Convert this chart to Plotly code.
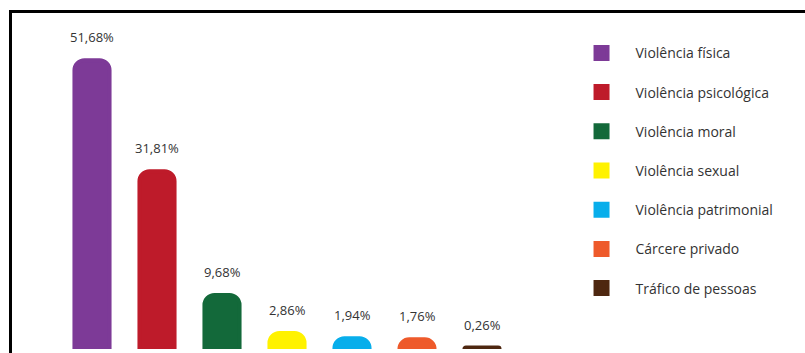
import plotly.graph_objects as go

categories = ["Violência física", "Violência psicológica", "Violência moral",
              "Violência sexual", "Violência patrimonial", "Cárcere privado",
              "Tráfico de pessoas"]
values = [51.68, 31.81, 9.68, 2.86, 1.94, 1.76, 0.26]
labels = ["51,68%", "31,81%", "9,68%", "2,86%", "1,94%", "1,76%", "0,26%"]
colors = ["#7D3A97", "#BE1B2A", "#13693A", "#FFF200", "#08AEEB", "#EE5A2B", "#4E2710"]

FONT = "Open Sans"

fig = go.Figure()
# the bars (cylinder-like, rounded tops)
for cat, val, col in zip(categories, values, colors):
    fig.add_trace(go.Bar(
        x=[cat], y=[val], name=cat, showlegend=False,
        marker=dict(color=col, line=dict(color=col, width=4), cornerradius=10),
        width=0.54, hoverinfo="skip",
    ))
# legend entries with square swatches
for i, (cat, col) in enumerate(zip(categories, colors)):
    fig.add_trace(go.Bar(
        x=[None], y=[None], name=cat, legendgroup=f"g{i}", showlegend=True,
        marker=dict(color=col, line=dict(color=col, width=4)),
        hoverinfo="skip",
    ))

annotations = [
    dict(x=cat, y=val, text=lab, showarrow=False, yanchor="bottom", yshift=12,
         font=dict(family=FONT, size=13, color="#333333"))
    for cat, val, lab in zip(categories, values, labels)
]

fig.update_layout(
    width=805, height=353,
    margin=dict(l=0, r=0, t=12, b=4),
    paper_bgcolor="white", plot_bgcolor="white",
    showlegend=True,
    legend=dict(x=0.705, y=0.925, xanchor="left", yanchor="top",
                font=dict(family=FONT, size=14, color="#333333"),
                tracegroupgap=18, itemwidth=58, bgcolor="rgba(0,0,0,0)"),
    xaxis=dict(domain=[59.5 / 805, 514.5 / 805], showticklabels=False,
               showgrid=False, zeroline=False, showline=False, ticks=""),
    yaxis=dict(range=[0, 60.3], showticklabels=False, showgrid=False,
               zeroline=False, showline=False, ticks=""),
    barmode="overlay",
    annotations=annotations,
    shapes=[
        dict(type="line", xref="paper", yref="paper", x0=10 / 805, x1=1.01,
             y0=1 + 0.5 / 337, y1=1 + 0.5 / 337, line=dict(color="black", width=3)),
        dict(type="line", xref="paper", yref="paper", x0=10.5 / 805, x1=10.5 / 805,
             y0=-0.05, y1=1 + 2 / 337, line=dict(color="black", width=3)),
    ],
)

fig.write_html("out.html")
